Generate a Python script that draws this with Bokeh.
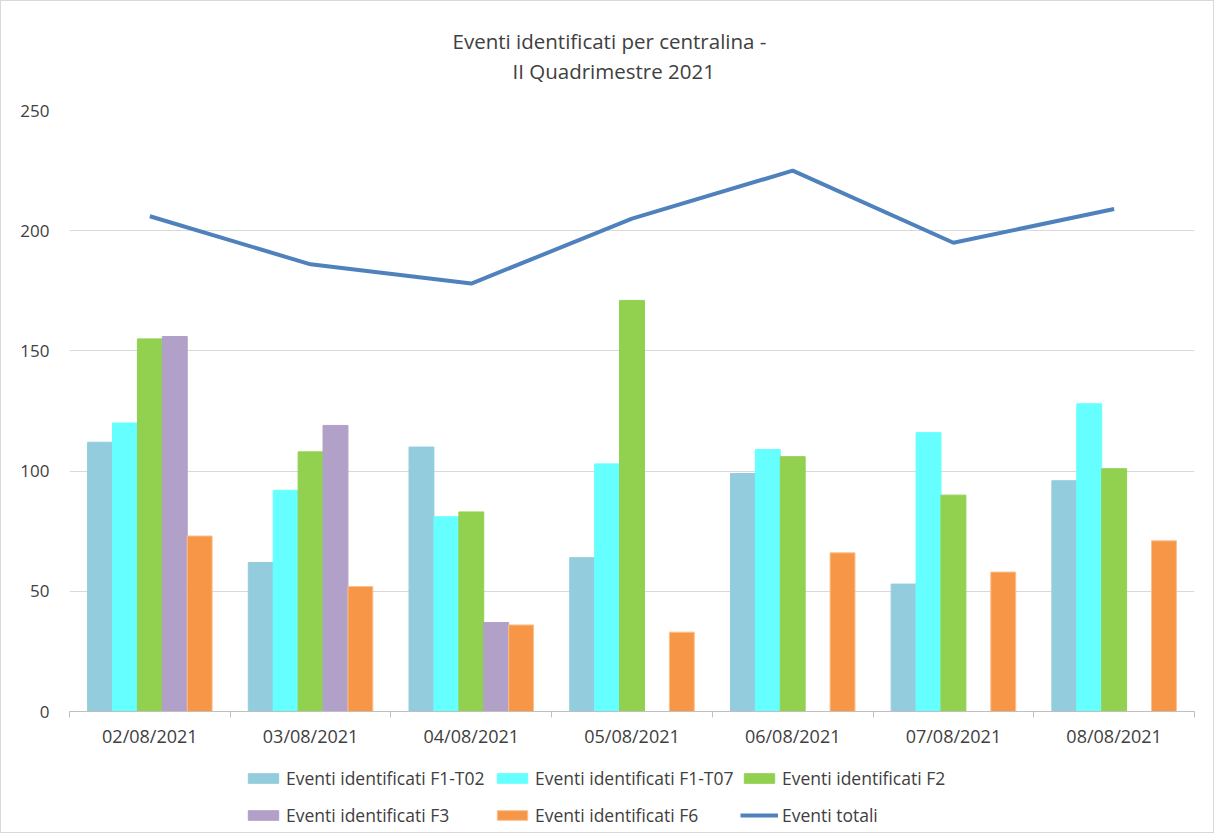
from bokeh.plotting import figure
from bokeh.models import Range1d, FixedTicker, Legend, LegendItem, ColumnDataSource, Title
from bokeh.layouts import column
from bokeh.transform import dodge
from bokeh.embed import file_html
from bokeh.resources import INLINE

dates = ["02/08/2021", "03/08/2021", "04/08/2021", "05/08/2021",
         "06/08/2021", "07/08/2021", "08/08/2021"]
f1_t02 = [112, 62, 110, 64, 99, 53, 96]
f1_t07 = [120, 92, 81, 103, 109, 116, 128]
f2 = [155, 108, 83, 171, 106, 90, 101]
f3 = [156, 119, 37, float("nan"), float("nan"), float("nan"), float("nan")]
f6 = [73, 52, 36, 33, 66, 58, 71]
totali = [206, 186, 178, 205, 225, 195, 209]
y_ticks = [0, 50, 100, 150, 200, 250]

FONT = "Open Sans"
TXT = "#404040"
x = [i + 0.5 for i in range(len(dates))]
src = ColumnDataSource(dict(x=x, f1_t02=f1_t02, f1_t07=f1_t07, f2=f2, f3=f3, f6=f6, tot=totali))

p = figure(width=1212, height=760, output_backend="svg", toolbar_location=None,
           x_range=Range1d(0, len(dates)), y_range=Range1d(0, 250),
           min_border_left=68, min_border_right=19, min_border_top=109, min_border_bottom=50)
p.outline_line_color = None

W = 0.155
series = [("f1_t02", "#93CDDD", "#93CDDD", "Eventi identificati F1-T02", -2),
          ("f1_t07", "#66FFFF", "#66FFFF", "Eventi identificati F1-T07", -1),
          ("f2", "#92D050", "#92D050", "Eventi identificati F2", 0),
          ("f3", "#B1A0C7", "#B1A0C7", "Eventi identificati F3", 1),
          ("f6", "#F79646", "#FAC090", "Eventi identificati F6", 2)]
for col, c, lc, label, k in series:
    p.vbar(x=dodge("x", k * W, range=p.x_range), top=col, width=W, source=src,
           fill_color=c, line_color=lc, line_width=1)
p.line(x="x", y="tot", source=src, line_color="#4F81BD", line_width=4)

# x axis: labels at group centres, tick marks at group boundaries
p.xaxis.ticker = FixedTicker(ticks=x, minor_ticks=list(range(len(dates) + 1)))
p.xaxis.major_label_overrides = {xx: d for xx, d in zip(x, dates)}
p.xaxis.major_tick_line_color = None
p.xaxis.minor_tick_in = 0
p.xaxis.minor_tick_out = 6
p.xaxis.minor_tick_line_color = "#bfbfbf"
p.xaxis.axis_line_color = "#bfbfbf"
p.xaxis.major_label_text_font = FONT
p.xaxis.major_label_text_font_size = "18px"
p.xaxis.major_label_text_color = TXT
p.xaxis.major_label_standoff = 6
p.xgrid.grid_line_color = None

p.yaxis.ticker = FixedTicker(ticks=y_ticks)
p.yaxis.axis_line_color = None
p.yaxis.major_tick_line_color = None
p.yaxis.minor_tick_line_color = None
p.yaxis.major_label_text_font = FONT
p.yaxis.major_label_text_font_size = "17px"
p.yaxis.major_label_text_color = TXT
p.yaxis.major_label_standoff = 14
p.ygrid.grid_line_color = "#d9d9d9"

# spacer between title and plot area, then the two title lines
p.add_layout(Title(text=" ", align="center", text_font=FONT, text_font_size="10px"), "above")
p.add_layout(Title(text="II Quadrimestre 2021", align="left", text_font=FONT,
                   text_font_size="20.5px", text_font_style="normal", text_color=TXT,
                   standoff=0, offset=443), "above")
p.add_layout(Title(text="Eventi identificati per centralina -", align="left", text_font=FONT,
                   text_font_size="20.5px", text_font_style="normal", text_color=TXT,
                   standoff=0, offset=383), "above")

# legend strip below the chart (legend keys mirror the chart's glyph styles;
# the key renderers sit outside the strip's visible range)
lf = figure(width=1212, height=71, output_backend="svg", toolbar_location=None,
            min_border_left=0, min_border_right=0, min_border_top=0, min_border_bottom=0,
            x_range=Range1d(0, 1), y_range=Range1d(0, 1))
lf.axis.visible = False
lf.grid.visible = False
lf.outline_line_color = None
keys = {}
for col, c, lc, label, k in series:
    keys[label] = lf.vbar(x=[-5], top=[-5], width=W, fill_color=c, line_color=lc, line_width=1)
keys["Eventi totali"] = lf.line(x=[-5, -4], y=[-5, -5], line_color="#4F81BD", line_width=4)

legend_pos = [("Eventi identificati F1-T02", 175, 42), ("Eventi identificati F1-T07", 424, 42),
              ("Eventi identificati F2", 671, 42), ("Eventi identificati F3", 175, 5),
              ("Eventi identificati F6", 424, 5), ("Eventi totali", 671, 5)]
for label, lx, ly in legend_pos:
    lg = Legend(items=[LegendItem(label=label, renderers=[keys[label]])], location=(lx, ly),
                label_text_font=FONT, label_text_font_size="17.5px", label_text_color=TXT,
                glyph_width=38, glyph_height=12, label_standoff=4, label_height=20,
                border_line_color=None, background_fill_alpha=0, padding=0, margin=0)
    lf.add_layout(lg)

layout = column(p, lf, spacing=0, styles={"border": "1px solid #d9d9d9"})
open("out.html", "w").write(file_html(layout, INLINE))
